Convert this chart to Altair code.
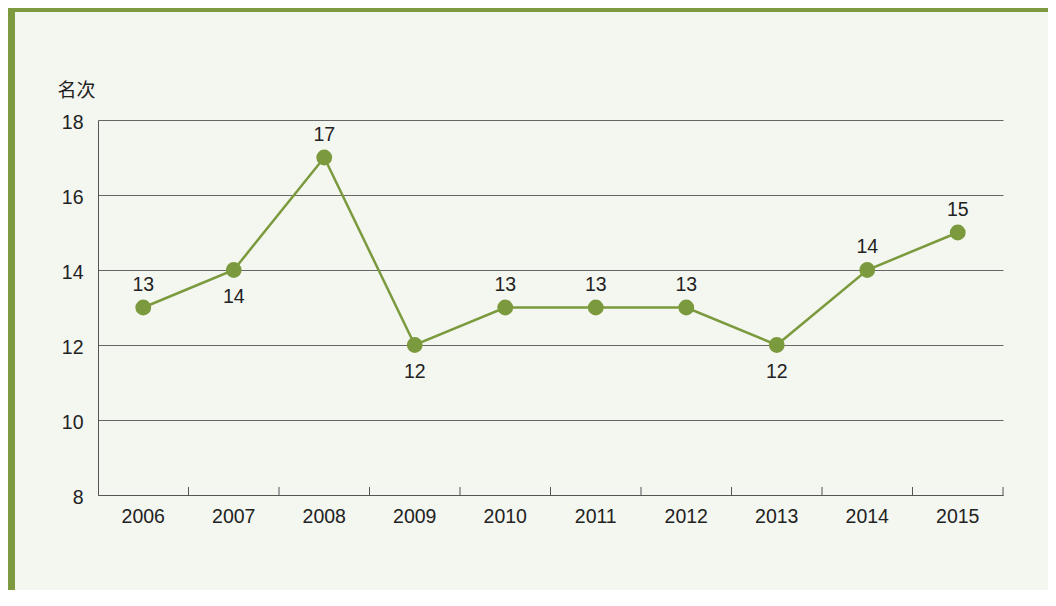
import altair as alt
import pandas as pd

years = ["2006", "2007", "2008", "2009", "2010", "2011", "2012", "2013", "2014", "2015"]
ranks = [13, 14, 17, 12, 13, 13, 13, 12, 14, 15]
label_side = ["above", "below", "above", "below", "above", "above", "above", "below", "above", "above"]
y_ticks = [8, 10, 12, 14, 16, 18]

df = pd.DataFrame({"year": years, "rank": ranks, "side": label_side})

W, H = 905, 375
GREEN = "#7d9a41"
LINE = "#7b9a3d"
BG = "#f4f6f0"
FONT = "Liberation Sans"
CJK = "Noto Sans CJK SC"
FS = 19.5

xenc = alt.X(
    "year:N", sort=years,
    scale=alt.Scale(type="band", paddingInner=0, paddingOuter=0),
    axis=alt.Axis(title=None, labelAngle=0, ticks=False, labelFontSize=FS, labelFont=FONT,
                  labelPadding=12, labelColor="#222", domainColor="#555", domainWidth=1, grid=False),
)
yenc = alt.Y(
    "rank:Q",
    scale=alt.Scale(domain=[8, 18], nice=False, zero=False),
    axis=alt.Axis(values=y_ticks, title="名次", titleAngle=0, titleX=-22, titleY=-30,
                  titleAlign="center", titleBaseline="middle", titleFontSize=19, titleFont=CJK,
                  titleFontWeight="normal", titleColor="#222",
                  labelFontSize=FS, labelFont=FONT, labelColor="#222", labelPadding=15, labelOffset=2,
                  ticks=False, domainColor="#555", grid=True, gridColor="#666", gridWidth=1),
)

base = alt.Chart(df)

ticks = base.mark_rule(xOffset=W / 20, color="#555", strokeWidth=1).encode(
    x=xenc, y=alt.value(H), y2=alt.value(H - 8)
)
line = base.mark_line(color=LINE, strokeWidth=2.5).encode(x=xenc, y=yenc)
pts = base.mark_circle(size=250, color=LINE, opacity=1).encode(x=xenc, y=yenc)
txt_above = base.transform_filter(alt.datum.side == "above").mark_text(
    dy=-23, fontSize=FS, font=FONT, color="#222"
).encode(x=xenc, y=yenc, text="rank:Q")
txt_below = base.transform_filter(alt.datum.side == "below").mark_text(
    dy=27, fontSize=FS, font=FONT, color="#222"
).encode(x=xenc, y=yenc, text="rank:Q")

frame_df = pd.DataFrame({"k": [0]})
frame_left = alt.Chart(frame_df).mark_rect(color=GREEN).encode(
    x=alt.value(-91), x2=alt.value(-83), y=alt.value(-120), y2=alt.value(H + 120)
)
frame_top = alt.Chart(frame_df).mark_rect(color=GREEN).encode(
    x=alt.value(-91), x2=alt.value(W + 60), y=alt.value(-120), y2=alt.value(-108)
)

chart = alt.layer(frame_left, frame_top, ticks, line, pts, txt_above, txt_below).properties(
    width=W, height=H,
    autosize=alt.AutoSizeParams(type="none"),
    padding={"left": 90, "top": 112, "right": 45, "bottom": 95},
    background=BG,
).configure_view(stroke=None)

chart.save("out.html", embed_options={"renderer": "svg", "actions": False})
